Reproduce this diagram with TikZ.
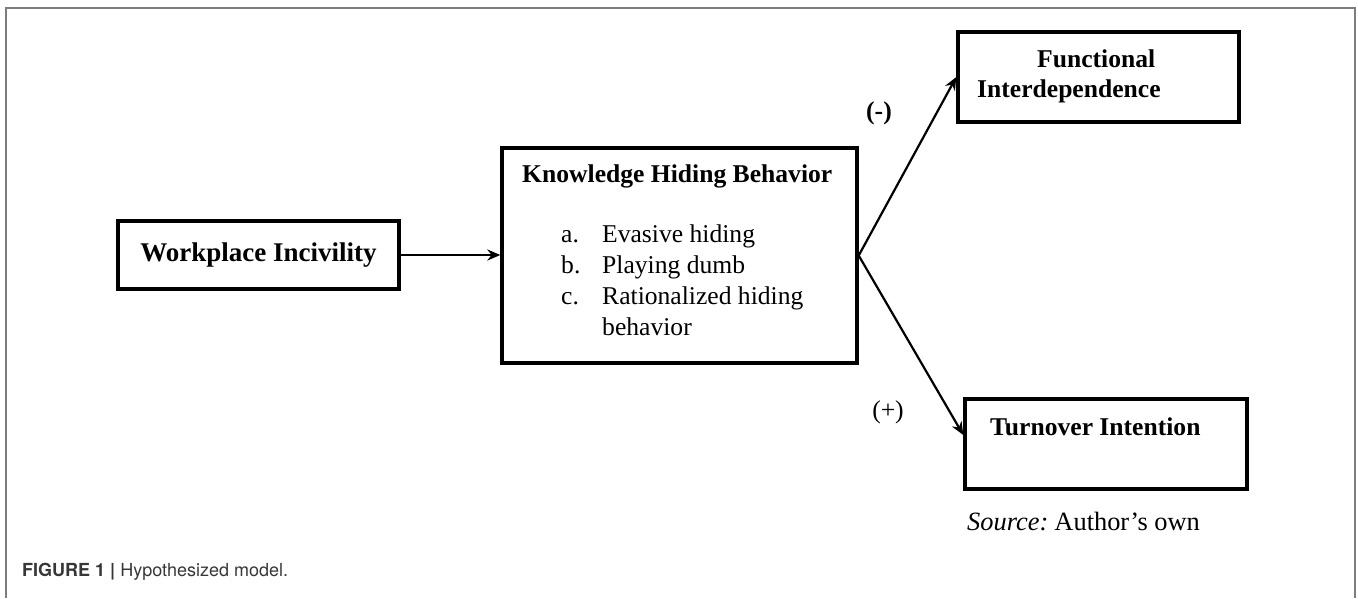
\documentclass[tikz,border=0pt]{standalone}
\usepackage{fontspec}
\setmainfont{Liberation Serif}
\newfontfamily\capfont{TeX Gyre Heros}
\usetikzlibrary{arrows.meta}
\definecolor{framegray}{RGB}{125,125,125}
\definecolor{capgray}{RGB}{55,55,55}
\begin{document}
\begin{tikzpicture}[x=1pt,y=-1pt,>={Stealth[length=13pt,width=11pt]},font=\fontsize{25.6}{31}\selectfont,
		box/.style={draw,line width=3.4pt,inner sep=0pt},
		txt/.style={inner sep=0pt,anchor=base west},
		conn/.style={->,line width=2.2pt}]
		\useasboundingbox (0,0) rectangle (1358,598);
		\draw[line width=1.8pt,framegray] (6,598)--(6,8)--(1355,8)--(1355,598);
		% boxes
		\node[box,minimum width=281pt,minimum height=68pt,font=\fontsize{27}{31}\selectfont\bfseries] (WI) at (258.5,255) {Workplace Incivility};
		\node[box,minimum width=355pt,minimum height=215pt] (KHB) at (679.5,255.5) {};
		\node[box,minimum width=281pt,minimum height=90pt] (FI) at (1098.5,77) {};
		\node[box,minimum width=282pt,minimum height=90pt] (TI) at (1106,444) {};
		% texts in the boxes
		\node[txt,font=\fontsize{25.6}{31}\selectfont\bfseries] (KHBhead) at (522,182) {Knowledge Hiding Behavior};
		\node[txt] (KHBlist) at (561,242) {\begin{tabular}[t]{@{}p{41pt}@{}l@{}}
				a. & Evasive hiding\\
				b. & Playing dumb\\
				c. & Rationalized hiding\\
				& behavior
			\end{tabular}};
		\node[txt,font=\fontsize{25.6}{31}\selectfont\bfseries] (FIa) at (1037,67) {Functional};
		\node[txt,font=\fontsize{25.6}{31}\selectfont\bfseries] (FIb) at (977,97) {Interdependence};
		\node[txt,font=\fontsize{25.6}{31}\selectfont\bfseries] (TIhead) at (990,435) {Turnover Intention};
		% connectors
		\draw[conn] (WI.east) -- (WI.east -| KHB.west);
		\draw[conn] (KHB.east) -- (FI.west);
		\draw[conn] (KHB.east) -- ([yshift=9pt]TI.west);
		\node[font=\fontsize{25.6}{31}\selectfont\bfseries] (neg) at (879,113) {(-)};
		\node (pos) at (888,412) {(+)};
		% source and caption
		\node[txt,font=\fontsize{26.4}{31}\selectfont] (src) at (967,530) {\textit{Source:}\hspace{-0.1em} Author’s own};
		\node[txt,font=\capfont\fontsize{18}{22}\selectfont,text=capgray] (cap) at (22,576) {{\bfseries FIGURE 1 |} Hypothesized model.};
\end{tikzpicture}
\end{document}
